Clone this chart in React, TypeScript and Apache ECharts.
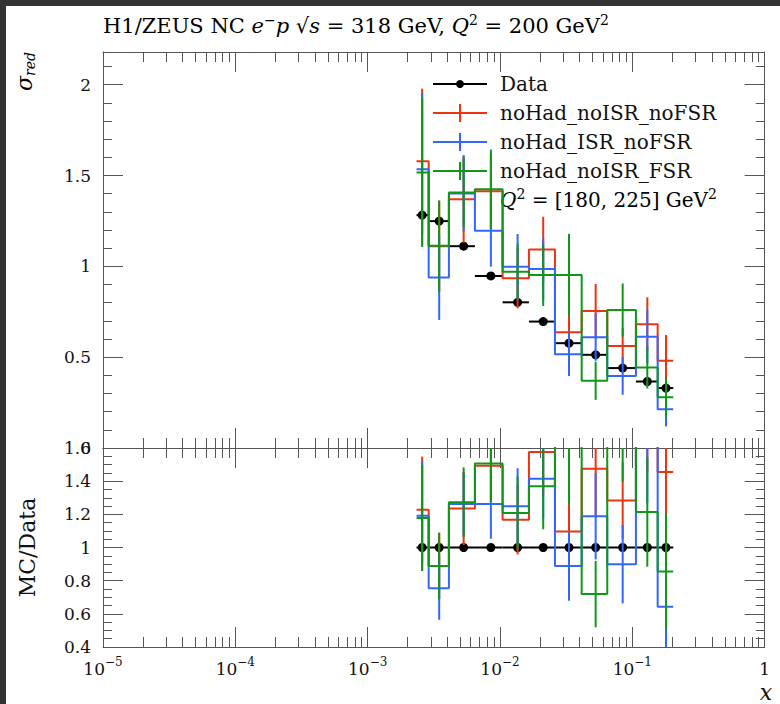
import React, { useEffect, useRef } from 'react';
import * as echarts from 'echarts';

// ---- data ----
const xEdges = [0.00234, 0.00289, 0.00411, 0.00646, 0.01046, 0.01654, 0.026, 0.0414, 0.0646, 0.1064, 0.1553, 0.2037];
const xData = [0.00258, 0.00347, 0.00531, 0.00853, 0.01358, 0.0212, 0.0332, 0.0528, 0.0845, 0.1297, 0.1795];

const dataSigma = [1.282, 1.249, 1.111, 0.947, 0.802, 0.696, 0.577, 0.513, 0.44, 0.366, 0.33];
const dataErr = [0.012, 0.012, 0.01, 0.009, 0.008, 0.008, 0.007, 0.007, 0.007, 0.007, 0.008];

const redMain = [1.578, 1.11, 1.37, 1.414, 0.934, 1.093, 0.637, 0.754, 0.562, 0.681, 0.48];
const redMainErr = [0.4, 0.25, 0.24, 0.21, 0.165, 0.18, 0.12, 0.149, 0.1, 0.149, 0.142];
const blueMain = [1.535, 0.939, 1.401, 1.196, 0.998, 0.985, 0.516, 0.61, 0.397, 0.613, 0.214];
const blueMainErr = [0.42, 0.234, 0.21, 0.198, 0.18, 0.17, 0.12, 0.13, 0.104, 0.147, 0.095];
const greenMain = [1.516, 1.113, 1.407, 1.425, 0.97, 0.952, 0.952, 0.37, 0.76, 0.443, 0.28];
const greenMainErr = [0.41, 0.25, 0.19, 0.218, 0.155, 0.17, 0.227, 0.105, 0.146, 0.115, 0.11];

const dataRatio = [1, 1, 1, 1, 1, 1, 1, 1, 1, 1, 1];
const redRatio = [1.228, 0.889, 1.235, 1.493, 1.168, 1.576, 1.097, 1.475, 1.283, 1.86, 1.455];
const redRatioErr = [0.32, 0.2, 0.22, 0.22, 0.21, 0.26, 0.21, 0.29, 0.23, 0.41, 0.43];
const blueRatio = [1.192, 0.754, 1.262, 1.263, 1.248, 1.414, 0.889, 1.188, 0.899, 1.67, 0.642];
const blueRatioErr = [0.33, 0.19, 0.19, 0.21, 0.23, 0.24, 0.21, 0.26, 0.236, 0.4, 0.45];
const greenRatio = [1.178, 0.889, 1.273, 1.507, 1.208, 1.37, 1.65, 0.719, 1.727, 1.214, 0.855];
const greenRatioErr = [0.32, 0.2, 0.21, 0.23, 0.22, 0.26, 0.39, 0.2, 0.33, 0.33, 0.35];

const seriesNames = ['noHad_noISR_noFSR', 'noHad_ISR_noFSR', 'noHad_noISR_FSR'];

// ticks / labels
const xMajor = [-5, -4, -3, -2, -1, 0];
const xMajorLabels = ['−5', '−4', '−3', '−2', '−1', ''];
const yMainMajor = [0, 0.5, 1, 1.5, 2];
const yRatioMajor = [0.4, 0.6, 0.8, 1, 1.2, 1.4, 1.6];

const MAIN_MIN = 0;
const MAIN_MAX = 2.18;
const RATIO_MIN = 0.4;
const RATIO_MAX = 1.6;

const RED = '#EE3311';
const BLUE = '#3366FF';
const GREEN = '#109618';
const FRAME = '#555555';
const TXT = '#111111';
const FONT = '"DejaVu Serif", serif';

const lg = (v: number) => Math.log10(v);

const xMinor: number[] = [];
for (let n = -5; n < 0; n++) for (let k = 2; k <= 9; k++) xMinor.push(n + Math.log10(k));
const yMainMinor: number[] = [];
for (let i = 1; i <= 21; i++) if (i % 5 !== 0) yMainMinor.push(i / 10);
const yRatioMinor: number[] = [];
for (let i = 8; i <= 32; i++) if (i % 4 !== 0) yRatioMinor.push(i / 20);

function stepPoints(vals: number[]) {
  const pts: number[][] = [];
  vals.forEach((v, i) => {
    pts.push([lg(xEdges[i]), v]);
    pts.push([lg(xEdges[i + 1]), v]);
  });
  return pts;
}

function stepSeries(vals: number[], color: string, xi: number, z: number) {
  return {
    type: 'line',
    xAxisIndex: xi,
    yAxisIndex: xi,
    data: stepPoints(vals),
    symbol: 'none',
    showSymbol: false,
    silent: true,
    clip: true,
    z,
    lineStyle: { color, width: 2 },
  };
}

function vErrSeries(vals: number[], errs: number[], color: string, xi: number, ymin: number, ymax: number, z: number) {
  return {
    type: 'custom',
    xAxisIndex: xi,
    yAxisIndex: xi,
    silent: true,
    z,
    data: vals.map((v, i) => [lg(xData[i]), Math.max(ymin, v - errs[i]), Math.min(ymax, v + errs[i])]),
    encode: { x: 0, y: [1, 2] },
    renderItem: (_p: any, api: any) => {
      const lo = api.value(1);
      const hi = api.value(2);
      if (hi <= lo) return { type: 'group', children: [] };
      const a = api.coord([api.value(0), lo]);
      const b = api.coord([api.value(0), hi]);
      return {
        type: 'line',
        shape: { x1: a[0], y1: a[1], x2: b[0], y2: b[1] },
        style: { stroke: color, lineWidth: 2 },
      };
    },
  };
}

function hBarSeries(vals: number[], xi: number, z: number) {
  return {
    type: 'custom',
    xAxisIndex: xi,
    yAxisIndex: xi,
    silent: true,
    z,
    data: vals.map((v, i) => [lg(xEdges[i]), lg(xEdges[i + 1]), v]),
    encode: { x: [0, 1], y: 2 },
    renderItem: (_p: any, api: any) => {
      const a = api.coord([api.value(0), api.value(2)]);
      const b = api.coord([api.value(1), api.value(2)]);
      return {
        type: 'line',
        shape: { x1: a[0], y1: a[1], x2: b[0], y2: b[1] },
        style: { stroke: '#000', lineWidth: 2 },
      };
    },
  };
}

function xAx(grid: number, pos: string, ticks: number[], len: number, showLine: boolean, labels: boolean) {
  return {
    type: 'value',
    gridIndex: grid,
    position: pos,
    min: -5,
    max: 0,
    axisLine: { show: showLine, onZero: false, lineStyle: { color: FRAME, width: 1 } },
    axisTick: { show: true, inside: true, length: len, customValues: ticks, lineStyle: { color: FRAME, width: 1 } },
    axisLabel: labels
      ? {
          show: true,
          customValues: xMajor,
          margin: 12,
          formatter: (v: number) => {
            const i = xMajor.indexOf(Math.round(v));
            if (Math.round(v) === 0) return '{b|1}';
            return '{b|10}{s|' + xMajorLabels[i] + '}';
          },
          rich: {
            b: { fontFamily: FONT, fontSize: 17, color: TXT, lineHeight: 20 },
            s: { fontFamily: FONT, fontSize: 12, color: TXT, lineHeight: 14, padding: [0, 0, 14, 0] },
          },
        }
      : { show: false },
    splitLine: { show: false },
  };
}

function yAx(grid: number, pos: string, min: number, max: number, ticks: number[], len: number, showLine: boolean, labels: number[] | null) {
  return {
    type: 'value',
    gridIndex: grid,
    position: pos,
    min,
    max,
    axisLine: { show: showLine, onZero: false, lineStyle: { color: FRAME, width: 1 } },
    axisTick: { show: true, inside: true, length: len, customValues: ticks, lineStyle: { color: FRAME, width: 1 } },
    axisLabel: labels
      ? {
          show: true,
          customValues: labels,
          margin: 12,
          fontFamily: FONT,
          fontSize: 17,
          color: TXT,
          formatter: (v: number) => String(Math.round(v * 100) / 100),
        }
      : { show: false },
    splitLine: { show: false },
  };
}

export default function App() {
  const ref = useRef<HTMLDivElement>(null);

  useEffect(() => {
    if (!ref.current) return;
    const chart = echarts.init(ref.current, null, { renderer: 'svg' });

    const legendRows = [
      { y: 84, color: '#000', label: 'Data', data: true },
      { y: 113, color: RED, label: seriesNames[0], data: false },
      { y: 142, color: BLUE, label: seriesNames[1], data: false },
      { y: 171, color: GREEN, label: seriesNames[2], data: false },
    ];
    const legendEls: any[] = [];
    legendRows.forEach((r) => {
      legendEls.push({
        type: 'line',
        shape: { x1: 433, y1: r.y, x2: 487, y2: r.y },
        style: { stroke: r.color, lineWidth: 2 },
      });
      if (r.data) {
        legendEls.push({ type: 'circle', shape: { cx: 460, cy: r.y, r: 4 }, style: { fill: '#000' } });
      } else {
        legendEls.push({
          type: 'line',
          shape: { x1: 460, y1: r.y - 9, x2: 460, y2: r.y + 9 },
          style: { stroke: r.color, lineWidth: 2 },
        });
      }
      legendEls.push({
        type: 'text',
        x: 500,
        y: r.y,
        style: { text: r.label, fontFamily: FONT, fontSize: 20, fill: TXT, verticalAlign: 'middle', align: 'left' },
      });
    });

    const richBase = (size: number) => ({
      n: { fontFamily: FONT, fontSize: size, color: TXT, lineHeight: size + 6 },
      i: { fontFamily: FONT, fontSize: size, fontStyle: 'italic', color: TXT, lineHeight: size + 6 },
      sup: { fontFamily: FONT, fontSize: Math.round(size * 0.68), color: TXT, lineHeight: Math.round(size * 0.7), padding: [0, 0, Math.round(size * 0.6), 0] },
    });

    legendEls.push({
      type: 'text',
      x: 500,
      y: 200,
      style: {
        text: '{i|Q}{sup|2}{n| = [180, 225] GeV}{sup|2}',
        rich: richBase(20),
        verticalAlign: 'middle',
        align: 'left',
      },
    });

    const option: any = {
      animation: false,
      backgroundColor: '#ffffff',
      grid: [
        { left: 103, right: 15.3, top: 52, height: 396, containLabel: false, outerBoundsMode: 'none' },
        { left: 103, right: 15.3, top: 448, height: 199, containLabel: false, outerBoundsMode: 'none' },
      ],
      xAxis: [
        xAx(0, 'bottom', xMajor, 20, true, false),
        xAx(0, 'top', xMajor, 20, true, false),
        xAx(0, 'bottom', xMinor, 10, false, false),
        xAx(0, 'top', xMinor, 10, false, false),
        xAx(1, 'bottom', xMajor, 20, true, true),
        xAx(1, 'top', xMajor, 20, true, false),
        xAx(1, 'bottom', xMinor, 10, false, false),
        xAx(1, 'top', xMinor, 10, false, false),
      ],
      yAxis: [
        yAx(0, 'left', MAIN_MIN, MAIN_MAX, yMainMajor, 20, true, yMainMajor),
        yAx(0, 'right', MAIN_MIN, MAIN_MAX, yMainMajor, 20, true, null),
        yAx(0, 'left', MAIN_MIN, MAIN_MAX, yMainMinor, 9, false, null),
        yAx(0, 'right', MAIN_MIN, MAIN_MAX, yMainMinor, 9, false, null),
        yAx(1, 'left', RATIO_MIN, RATIO_MAX, yRatioMajor, 20, true, yRatioMajor),
        yAx(1, 'right', RATIO_MIN, RATIO_MAX, yRatioMajor, 20, true, null),
        yAx(1, 'left', RATIO_MIN, RATIO_MAX, yRatioMinor, 9, false, null),
        yAx(1, 'right', RATIO_MIN, RATIO_MAX, yRatioMinor, 9, false, null),
      ],
      series: [
        // main panel: data
        hBarSeries(dataSigma, 0, 2),
        vErrSeries(dataSigma, dataErr, '#000', 0, MAIN_MIN, MAIN_MAX, 2),
        {
          type: 'scatter',
          xAxisIndex: 0,
          yAxisIndex: 0,
          silent: true,
          z: 2,
          symbol: 'circle',
          symbolSize: 9,
          itemStyle: { color: '#000', borderWidth: 0, opacity: 1 },
          data: dataSigma.map((v, i) => [lg(xData[i]), v]),
        },
        stepSeries(redMain, RED, 0, 3),
        vErrSeries(redMain, redMainErr, RED, 0, MAIN_MIN, MAIN_MAX, 3),
        stepSeries(blueMain, BLUE, 0, 4),
        vErrSeries(blueMain, blueMainErr, BLUE, 0, MAIN_MIN, MAIN_MAX, 4),
        stepSeries(greenMain, GREEN, 0, 5),
        vErrSeries(greenMain, greenMainErr, GREEN, 0, MAIN_MIN, MAIN_MAX, 5),
        // ratio panel
        hBarSeries(dataRatio, 4, 2),
        {
          type: 'scatter',
          xAxisIndex: 4,
          yAxisIndex: 4,
          silent: true,
          z: 2,
          symbol: 'circle',
          symbolSize: 9,
          itemStyle: { color: '#000', borderWidth: 0, opacity: 1 },
          data: dataRatio.map((v, i) => [lg(xData[i]), v]),
        },
        stepSeries(redRatio, RED, 4, 3),
        vErrSeries(redRatio, redRatioErr, RED, 4, RATIO_MIN, RATIO_MAX, 3),
        stepSeries(blueRatio, BLUE, 4, 4),
        vErrSeries(blueRatio, blueRatioErr, BLUE, 4, RATIO_MIN, RATIO_MAX, 4),
        stepSeries(greenRatio, GREEN, 4, 5),
        vErrSeries(greenRatio, greenRatioErr, GREEN, 4, RATIO_MIN, RATIO_MAX, 5),
      ],
      graphic: [
        { type: 'rect', shape: { x: 0, y: 0, width: 780, height: 6 }, style: { fill: '#333333' }, z: 100 },
        { type: 'rect', shape: { x: 0, y: 0, width: 6, height: 704 }, style: { fill: '#333333' }, z: 100 },
        {
          type: 'text',
          x: 103,
          y: 26,
          style: {
            text: '{n|H1/ZEUS NC }{i|e}{sup|−}{i|p}{n| √}{i|s}{n| = 318 GeV, }{i|Q}{sup|2}{n| = 200 GeV}{sup|2}',
            rich: richBase(21),
            verticalAlign: 'middle',
            align: 'left',
          },
        },
        {
          type: 'text',
          x: 24,
          y: 52,
          rotation: Math.PI / 2,
          style: {
            text: '{i|σ}{sub|red}',
            rich: {
              i: { fontFamily: FONT, fontSize: 22, fontStyle: 'italic', color: TXT, lineHeight: 26 },
              sub: { fontFamily: FONT, fontSize: 14, fontStyle: 'italic', color: TXT, lineHeight: 16, padding: [12, 0, 0, 0] },
            },
            align: 'right',
            verticalAlign: 'middle',
          },
        },
        {
          type: 'text',
          x: 27,
          y: 547.5,
          rotation: Math.PI / 2,
          style: { text: 'MC/Data', fontFamily: FONT, fontSize: 22, fill: TXT, align: 'center', verticalAlign: 'middle' },
        },
        {
          type: 'text',
          x: 766,
          y: 692,
          style: { text: 'x', fontFamily: FONT, fontSize: 22, fontStyle: 'italic', fill: TXT, align: 'center', verticalAlign: 'middle' },
        },
        ...legendEls,
      ],
    };

    chart.setOption(option);
    return () => chart.dispose();
  }, []);

  return <div ref={ref} style={{ position: 'fixed', left: 0, top: 0, width: 780, height: 704, background: '#fff' }} />;
}
